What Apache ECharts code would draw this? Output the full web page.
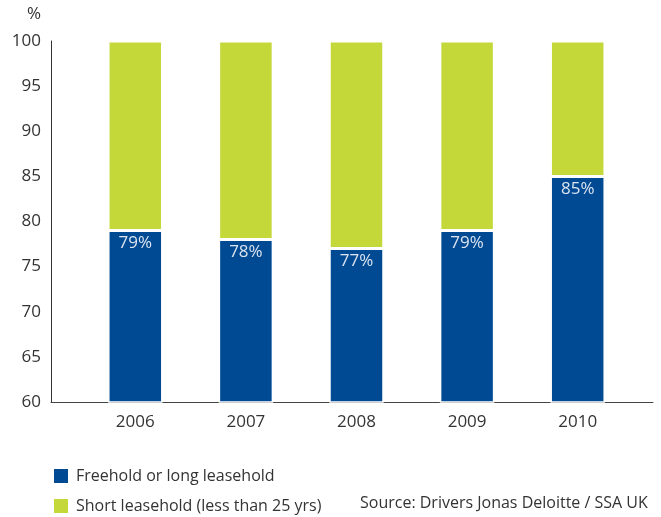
<!DOCTYPE html>
<html>
<head>
<meta charset="utf-8">
<script src="https://cdn.jsdelivr.net/npm/echarts@6/dist/echarts.min.js"></script>
<style>
html,body{margin:0;padding:0;background:#fff;}
#chart{width:661px;height:517px;}
</style>
</head>
<body>
<div id="chart"></div>
<script>
const years = ['2006', '2007', '2008', '2009', '2010'];
const freehold = [79, 78, 77, 79, 85];
const shortLease = [21, 22, 23, 21, 15];
const seriesNames = ['Freehold or long leasehold', 'Short leasehold (less than 25 yrs)'];
const sourceNote = 'Source: Drivers Jonas Deloitte / SSA UK';

const FONT = '"Open Sans", "DejaVu Sans", sans-serif';
const BLUE = '#004a93';
const GREEN = '#c4d839';
const TEXT = '#333333';

const legendBase = {
  orient: 'vertical',
  left: 52,
  padding: 0,
  itemWidth: 16, itemHeight: 16,
  icon: 'rect',
  textStyle: { fontSize: 16, color: TEXT, fontFamily: FONT, padding: [0, 0, 0, 2] }
};

const chart = echarts.init(document.getElementById('chart'), null, { renderer: 'canvas' });
chart.setOption({
  animation: false,
  textStyle: { fontFamily: FONT },
  title: {
    text: sourceNote,
    left: 355, top: 490,
    textStyle: { fontSize: 16, fontWeight: 'normal', color: TEXT, fontFamily: FONT }
  },
  legend: [
    Object.assign({}, legendBase, { top: 467, data: [seriesNames[0]] }),
    Object.assign({}, legendBase, { top: 497, data: [seriesNames[1]] })
  ],
  grid: [
    { left: 80, right: 28, top: 41, bottom: 115 },
    { left: 51, right: 8, top: 41, bottom: 115 }
  ],
  xAxis: [
    {
      type: 'category', gridIndex: 0, data: years,
      axisLine: { show: false }, axisTick: { show: false },
      axisLabel: { fontSize: 17, color: TEXT, margin: 12, fontFamily: FONT }
    },
    {
      type: 'value', gridIndex: 1, min: 0, max: 1,
      axisLine: { show: true, lineStyle: { color: '#444', width: 1 } },
      axisTick: { show: false }, axisLabel: { show: false }, splitLine: { show: false }
    }
  ],
  yAxis: [
    {
      type: 'value', gridIndex: 0, min: 60, max: 100, interval: 5,
      offset: 29,
      name: '%', nameLocation: 'end', nameGap: 18,
      nameTextStyle: { fontSize: 17, color: TEXT, align: 'right', padding: [0, 10, 0, 0] },
      axisLine: { show: true, lineStyle: { color: TEXT, width: 1 } },
      axisTick: { show: false },
      splitLine: { show: false },
      axisLabel: { fontSize: 17, color: TEXT, margin: 10, fontFamily: FONT, padding: [7, 0, 0, 0] }
    },
    { type: 'value', gridIndex: 1, show: false, min: 0, max: 1 }
  ],
  series: [
    {
      name: seriesNames[0], type: 'bar', stack: 'share',
      xAxisIndex: 0, yAxisIndex: 0,
      barWidth: 54.5,
      data: freehold,
      itemStyle: { color: BLUE, borderColor: '#ffffff', borderWidth: 1.5 },
      label: {
        show: true, position: 'insideTop', distance: 4,
        formatter: p => p.value + '%',
        color: '#dbe4f0', fontSize: 17, fontFamily: FONT
      }
    },
    {
      name: seriesNames[1], type: 'bar', stack: 'share',
      xAxisIndex: 0, yAxisIndex: 0,
      barWidth: 54.5,
      data: shortLease,
      itemStyle: { color: GREEN, borderColor: '#ffffff', borderWidth: 1.5 }
    }
  ]
});
</script>
</body>
</html>
